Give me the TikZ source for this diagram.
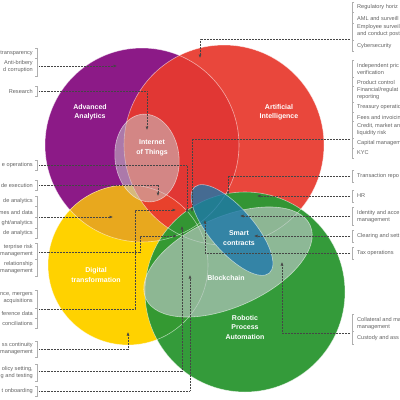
\documentclass[tikz,border=0pt]{standalone}
\usepackage{fontspec}
\setmainfont{Liberation Sans}
\usetikzlibrary{arrows.meta}
\definecolor{cpurple}{RGB}{140,26,135}
\definecolor{cred}{RGB}{232,58,46}
\definecolor{cyellow}{RGB}{255,210,0}
\definecolor{cgold}{RGB}{232,168,30}
\definecolor{cgreen}{RGB}{46,152,52}
\definecolor{cgrayfill}{RGB}{200,200,200}
\definecolor{cbcfill}{RGB}{190,200,200}
\definecolor{cblue}{RGB}{30,120,170}
\definecolor{ctext}{RGB}{100,100,100}
\definecolor{cbrack}{RGB}{175,175,175}
\definecolor{cline}{RGB}{70,70,70}
\begin{document}
\begin{tikzpicture}[x=1pt,y=-1pt,
  lbl/.style={font=\fontsize{5.6}{7}\selectfont, text=ctext, inner sep=0pt},
  llbl/.style={lbl, anchor=east, align=right},
  rlbl/.style={lbl, anchor=west, align=left},
  big/.style={font=\fontsize{7}{9.5}\selectfont\bfseries, text=white, align=center, inner sep=0pt},
  brack/.style={draw=cbrack, line width=0.45pt},
  conn/.style={draw=cline, line width=0.55pt, dash pattern=on 0.6pt off 0.9pt, -{Latex[length=3.5pt,width=3pt]}},
  edge/.style={draw=white, draw opacity=0.55, line width=0.6pt},
]
\useasboundingbox (0,0) rectangle (400,400);
\clip (0,0) rectangle (400,400);
\fill[white] (0,0) rectangle (400,400);

% main circles
\fill[cpurple] (142,145) circle (97);
\fill[cyellow] (128,265) circle (80);
\begin{scope}
  \clip (142,145) circle (97);
  \fill[cgold] (128,265) circle (80);
\end{scope}
\fill[cred, opacity=0.93] (224,145) circle (100);
\fill[cgreen, opacity=0.97] (245,292) circle (100);
\draw[edge] (142,145) circle (97);
\draw[edge] (128,265) circle (80);
\draw[edge] (224,145) circle (100);
\draw[edge] (245,292) circle (100);

% ellipses
\fill[cgrayfill, opacity=0.55, rotate around={7:(147,158)}] (147,158) ellipse [x radius=32, y radius=44];
\draw[edge, rotate around={7:(147,158)}] (147,158) ellipse [x radius=32, y radius=44];
\fill[cbcfill, opacity=0.65, rotate around={24:(228,262)}] (228,262) ellipse [x radius=90, y radius=45];
\draw[edge, rotate around={24:(228,262)}] (228,262) ellipse [x radius=90, y radius=45];
\fill[cblue, opacity=0.8, rotate around={-49:(232,230)}] (232,230) ellipse [x radius=57, y radius=22];
\draw[edge, rotate around={-49:(232,230)}] (232,230) ellipse [x radius=57, y radius=22];

% shape labels
\node[big] (nAA) at (90,112) {Advanced\\Analytics};
\node[big] (nAI) at (279,112) {Artificial\\Intelligence};
\node[big] (nIoT) at (152,148) {Internet\\of Things};
\node[big] (nSC) at (239,238) {Smart\\contracts};
\node[big] (nBC) at (226,278) {Blockchain};
\node[big] (nDT) at (96,275) {Digital\\transformation};
\node[big] (nRPA) at (245,327) {Robotic\\Process\\Automation};

% left labels
\node[llbl] (ltr) at (33,53) {transparency};
\node[llbl] (lab) at (33,67) {Anti-bribery\\d corruption};
\node[llbl] (lre) at (33,91) {Research};
\node[llbl] (lop) at (33,165) {e operations};
\node[llbl] (lex) at (33,185) {de execution};
\node[llbl] (lan1) at (33,201) {de analytics};
\node[llbl] (lan2) at (33,212) {mes and data};
\node[llbl] (lan3) at (33,223) {ght/analytics};
\node[llbl] (lan4) at (33,233) {de analytics};
\node[llbl] (ler) at (33,250.5) {terprise risk\\management};
\node[llbl] (lrel) at (33,267.5) {relationship\\management};
\node[llbl] (lma) at (33,298.5) {nce, mergers\\acquisitions};
\node[llbl] (lrd) at (33,313) {ference data};
\node[llbl] (lrc) at (33,323) {conciliations};
\node[llbl] (lbc) at (33,349) {ss continuity\\management};
\node[llbl] (lps) at (33,372.5) {olicy setting,\\g and testing};
\node[llbl] (lon) at (33,391) {t onboarding};

% right labels
\node[rlbl] (rrh) at (357,7) {Regulatory horiz};
\node[rlbl] (raml) at (357,18) {AML and surveill};
\node[rlbl] (remp) at (357,31) {Employee surveil\\and conduct post};
\node[rlbl] (rcyb) at (357,46) {Cybersecurity};
\node[rlbl] (ripv) at (357,69) {Independent pric\\verification};
\node[rlbl] (rpc) at (357,82) {Product control};
\node[rlbl] (rfin) at (357,94) {Financial/regulat\\reporting};
\node[rlbl] (rtre) at (357,107) {Treasury operatio};
\node[rlbl] (rfee) at (357,117) {Fees and invoicin};
\node[rlbl] (rcre) at (357,129.5) {Credit, market an\\liquidity risk};
\node[rlbl] (rcap) at (357,143) {Capital managem};
\node[rlbl] (rkyc) at (357,153) {KYC};
\node[rlbl] (rtr) at (357,176) {Transaction repo};
\node[rlbl] (rhr) at (357,196) {HR};
\node[rlbl] (rid) at (357,216.5) {Identity and acce\\management};
\node[rlbl] (rcl) at (357,236) {Clearing and sett};
\node[rlbl] (rtax) at (357,253) {Tax operations};
\node[rlbl] (rcol) at (357,324) {Collateral and ma\\management};
\node[rlbl] (rcus) at (357,338) {Custody and ass};

% left brackets
\draw[brack] (35,48) -- (37,48) -- (37,76) -- (35,76);
\draw[brack] (35,58) -- (37,58);
\draw[brack] (35,86) -- (37,86) -- (37,96) -- (35,96);
\draw[brack] (35,160) -- (37,160) -- (37,170) -- (35,170);
\draw[brack] (35,180) -- (37,180) -- (37,190) -- (35,190);
\draw[brack] (35,196) -- (37,196) -- (37,238) -- (35,238);
\draw[brack] (35,206.5) -- (37,206.5) (35,217.5) -- (37,217.5) (35,228) -- (37,228);
\draw[brack] (35,243) -- (37,243) -- (37,276) -- (35,276);
\draw[brack] (35,259) -- (37,259);
\draw[brack] (35,290) -- (37,290) -- (37,328) -- (35,328);
\draw[brack] (35,308) -- (37,308) (35,318) -- (37,318);
\draw[brack] (35,341) -- (37,341) -- (37,357) -- (35,357);
\draw[brack] (35,364) -- (37,364) -- (37,381) -- (35,381);
\draw[brack] (35,386) -- (37,386) -- (37,396) -- (35,396);

% right brackets
\draw[brack] (354,2) -- (352,2) -- (352,51) -- (354,51);
\draw[brack] (352,12.5) -- (354,12.5) (352,23) -- (354,23) (352,40.5) -- (354,40.5);
\draw[brack] (354,60) -- (352,60) -- (352,158) -- (354,158);
\draw[brack] (352,77) -- (354,77) (352,86.5) -- (354,86.5) (352,102) -- (354,102) (352,112) -- (354,112) (352,121.5) -- (354,121.5) (352,138) -- (354,138) (352,148) -- (354,148);
\draw[brack] (354,170) -- (352,170) -- (352,182) -- (354,182);
\draw[brack] (354,190) -- (352,190) -- (352,202) -- (354,202);
\draw[brack] (354,207) -- (352,207) -- (352,225) -- (354,225);
\draw[brack] (354,230) -- (352,230) -- (352,242) -- (354,242);
\draw[brack] (354,247) -- (352,247) -- (352,259) -- (354,259);
\draw[brack] (354,314) -- (352,314) -- (352,344) -- (354,344);
\draw[brack] (352,331) -- (354,331);

% connector end points
\coordinate (ls1) at (39,66);   \coordinate (lt1) at (117,66);
\coordinate (ls2) at (39,91);   \coordinate (lt2) at (147,130);
\coordinate (ls3) at (39,165);  \coordinate (lt3) at (187,213);
\coordinate (ls4) at (39,185);  \coordinate (lt4) at (158,196);
\coordinate (ls5) at (39,217);  \coordinate (lt5) at (113,217);
\coordinate (ls6) at (39,252);  \coordinate (lm6) at (140,236); \coordinate (lt6) at (177,236);
\coordinate (ls7) at (39,309);  \coordinate (lm7) at (135,210); \coordinate (lt7) at (176,210);
\coordinate (ls8) at (39,349);  \coordinate (lt8) at (128,332);
\coordinate (ls9) at (39,371);  \coordinate (lt9) at (182,226);
\coordinate (ls10) at (39,391); \coordinate (lt10) at (190,275);

\coordinate (rs1) at (350,39);  \coordinate (rt1) at (200,58);
\coordinate (rs2) at (350,139); \coordinate (rt2) at (192,212);
\coordinate (rs3) at (350,176); \coordinate (rt3) at (228,195);
\coordinate (rs4) at (350,196); \coordinate (rt4) at (257,196);
\coordinate (rs5) at (350,216); \coordinate (rt5) at (240,216);
\coordinate (rs6) at (350,236); \coordinate (rt6) at (254,236);
\coordinate (rs7) at (350,253); \coordinate (rt7) at (205,220);
\coordinate (rs8) at (350,333); \coordinate (rt8) at (282,262);

% connectors
\draw[conn] (ls1) -- (lt1);
\draw[conn] (ls2) -| (lt2);
\draw[conn] (ls3) -| (lt3);
\draw[conn] (ls4) -| (lt4);
\draw[conn] (ls5) -- (lt5);
\draw[conn] (ls6) -| (lm6) -- (lt6);
\draw[conn] (ls7) -| (lm7) -- (lt7);
\draw[conn] (ls8) -| (lt8);
\draw[conn] (ls9) -| (lt9);
\draw[conn] (ls10) -| (lt10);

\draw[conn] (rs1) -| (rt1);
\draw[conn] (rs2) -| (rt2);
\draw[conn] (rs3) -| (rt3);
\draw[conn] (rs4) -- (rt4);
\draw[conn] (rs5) -- (rt5);
\draw[conn] (rs6) -- (rt6);
\draw[conn] (rs7) -| (rt7);
\draw[conn] (rs8) -| (rt8);
\end{tikzpicture}
\end{document}
